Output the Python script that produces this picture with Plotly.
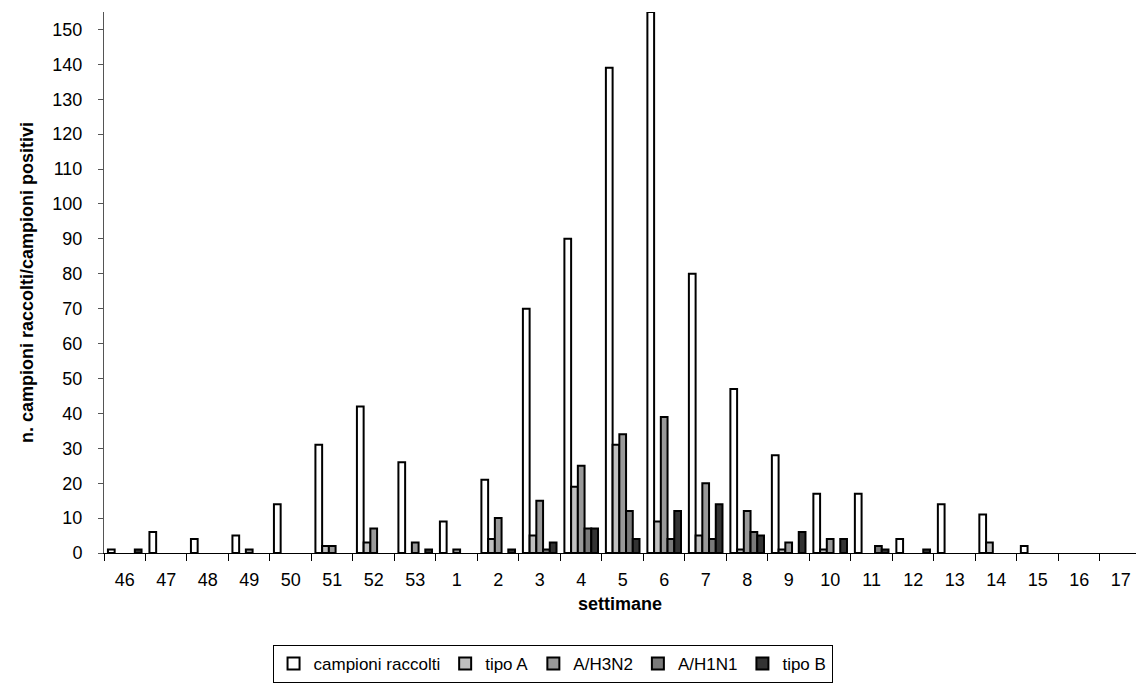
import plotly.graph_objects as go

weeks = ["46", "47", "48", "49", "50", "51", "52", "53", "1", "2", "3", "4", "5",
         "6", "7", "8", "9", "10", "11", "12", "13", "14", "15", "16", "17"]

campioni_raccolti = [1, 6, 4, 5, 14, 31, 42, 26, 9, 21, 70, 90, 139, 155, 80, 47, 28, 17, 17, 4, 14, 11, 2, 0, 0]
tipo_A =            [0, 0, 0, 0, 0, 2, 3, 0, 0, 4, 5, 19, 31, 9, 5, 1, 1, 1, 0, 0, 0, 3, 0, 0, 0]
a_h3n2 =            [0, 0, 0, 1, 0, 2, 7, 3, 1, 10, 15, 25, 34, 39, 20, 12, 3, 4, 0, 0, 0, 0, 0, 0, 0]
a_h1n1 =            [0, 0, 0, 0, 0, 0, 0, 0, 0, 0, 1, 7, 12, 4, 4, 6, 0, 0, 2, 0, 0, 0, 0, 0, 0]
tipo_B =            [1, 0, 0, 0, 0, 0, 0, 1, 0, 1, 3, 7, 4, 12, 14, 5, 6, 4, 1, 1, 0, 0, 0, 0, 0]

series = [
    ("campioni raccolti", campioni_raccolti, "#FFFFFF"),
    ("tipo A", tipo_A, "#C0C0C0"),
    ("A/H3N2", a_h3n2, "#999999"),
    ("A/H1N1", a_h1n1, "#7A7A7A"),
    ("tipo B", tipo_B, "#333333"),
]

FONT = "Liberation Sans, Arial, sans-serif"

fig = go.Figure()
for name, vals, col in series:
    fig.add_trace(go.Bar(
        x=weeks, y=[v if v else None for v in vals], name=name,
        marker=dict(color=col, line=dict(color="#000000", width=2)),
    ))

fig.update_layout(
    width=1136, height=688,
    margin=dict(l=104, r=0, t=12, b=135),
    paper_bgcolor="white", plot_bgcolor="white",
    barmode="group", bargap=0.19, bargroupgap=0,
    font=dict(family=FONT, size=17, color="#000000"),
    showlegend=True,
    legend=dict(
        orientation="h",
        xref="container", yref="container",
        x=0.4864, xanchor="center",
        y=1 - 645 / 688, yanchor="top",
        bordercolor="#000000", borderwidth=1,
        font=dict(family=FONT, size=17, color="#000000"),
        itemwidth=30,
        tracegroupgap=0,
    ),
)

fig.update_xaxes(
    type="category",
    categoryorder="array", categoryarray=weeks,
    range=[-0.5, 24.37],
    showline=True, linecolor="#000000", linewidth=1,
    ticks="outside", tickson="boundaries", ticklen=7, tickcolor="#000000",
    ticklabelstandoff=10,
    tickfont=dict(family=FONT, size=18),
    showgrid=False, zeroline=False,
    title=dict(text="<b>settimane</b>", font=dict(family=FONT, size=18), standoff=8),
)

fig.update_yaxes(
    range=[0, 155],
    tickmode="array", tickvals=list(range(0, 151, 10)),
    showline=True, linecolor="#555555", linewidth=1,
    ticks="outside", ticklen=5, tickcolor="#555555",
    ticklabelstandoff=12,
    tickfont=dict(family=FONT, size=18),
    showgrid=False, zeroline=False,
    title=dict(text="<b>n. campioni raccolti/campioni positivi</b>",
               font=dict(family=FONT, size=18), standoff=14),
)

fig.write_html("out.html")
